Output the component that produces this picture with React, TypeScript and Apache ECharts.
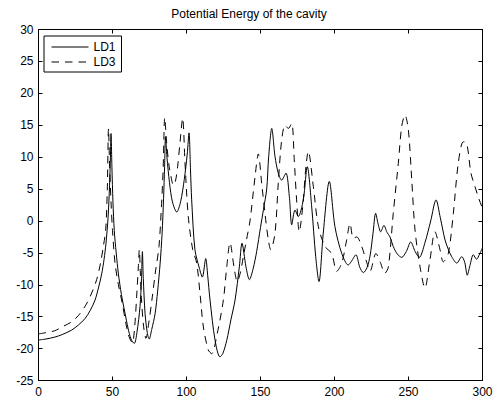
import { useEffect, useRef } from "react";
import * as echarts from "echarts";

const chartTitle = "Potential Energy of the cavity";
const seriesNames = ["LD1", "LD3"];

const ld1X = [0, 5, 11, 16, 22.4, 27, 31.4, 35, 38.2, 40.5, 42.7, 44.3, 45.6, 47, 48, 48.6, 49, 49.6, 50.3, 51.2, 52.5, 54, 56, 58.5, 60.5, 62.5, 64.7, 66.5, 68.6, 69.6, 70.2, 70.8, 72, 73.5, 74.8, 76.5, 78.8, 80.5, 82.2, 83.5, 84.5, 85.2, 85.8, 86.8, 88.5, 90.5, 93.4, 96, 98.5, 100.5, 101.7, 102.7, 103.5, 105.7, 108.7, 110.7, 113, 114.3, 115.9, 119.3, 122.6, 124.5, 127.2, 130, 132.8, 135.7, 137.5, 140.2, 142.5, 145, 147.4, 150, 152, 154.2, 155.5, 157.6, 159.8, 162, 164.3, 167.2, 169.5, 171.1, 173.3, 175.5, 178.9, 181.6, 184.6, 187.3, 189.5, 192.4, 196.5, 200.3, 204.9, 209.3, 211.5, 214.5, 217, 219.5, 222, 224, 226, 227.8, 229.5, 231.2, 233.4, 235.5, 237.5, 239.7, 242.5, 245.4, 248.5, 251.5, 254.5, 257.3, 261, 265, 268.6, 271.5, 274.7, 277, 279.2, 282.6, 286, 288, 289.7, 291.5, 293.8, 296, 298, 300];
const ld1Y = [-18.65, -18.5, -18.2, -17.8, -17.1, -16.3, -15.3, -14, -12.4, -10.5, -8.3, -6, -3.5, 0.5, 5.5, 10, 13.7, 8.5, 3, -1.5, -5, -8.3, -11.5, -14.5, -16.8, -18.5, -19.2, -17.5, -13.4, -9, -4.8, -9, -14.5, -17.5, -18.5, -17, -14.5, -11, -6.6, -2, 3.5, 8.5, 13.2, 10, 6, 3, 1.4, 3, 6.5, 10.5, 13.8, 8, 3.3, -4.5, -7.4, -8.8, -5.9, -8.5, -12.4, -18.7, -21.3, -20.8, -18.7, -15.5, -12.4, -7.2, -3.5, -7.2, -9.2, -7.5, -4.8, -1, 1.8, 5, 10, 14.5, 10.1, 7.5, 6.4, 7.5, 3.8, -0.6, 1.7, 0.7, 3.3, 8.5, 2.2, -5.6, -9.5, -1.9, 6.2, -0.9, -5.1, -6.9, -6.3, -5.3, -7.2, -8.1, -7.3, -5.5, -2, 1.2, -0.5, -1.7, -0.7, -1.8, -2.5, -4, -5.2, -5.7, -4.8, -3.3, -4.8, -5.7, -3.5, 0, 3.3, 0.5, -3, -4.5, -5.6, -6.6, -5.6, -6.5, -8.5, -7, -5.3, -6, -5.2, -4.2];

const ld3X = [0, 5, 11, 16, 22.4, 27, 31.4, 35, 39.3, 42, 43.8, 45.4, 46.5, 47.3, 48, 49, 50, 51.7, 54, 56.6, 59, 61.1, 63.4, 65, 66.3, 67.5, 68.1, 68.8, 69.5, 71, 72.6, 74.5, 76.9, 79, 81.4, 83, 84.2, 85.3, 86.5, 88, 89.5, 91.1, 92.5, 94, 95.5, 97.4, 99, 101.2, 104.2, 106.9, 109.1, 111.4, 114.7, 117, 120.8, 124.9, 127.2, 129.4, 132.1, 134.3, 136.5, 138.4, 140.5, 142.9, 146.3, 148.5, 150.8, 153, 155.3, 156.9, 159.8, 162, 164.3, 166.6, 168.8, 171.1, 172.8, 174.4, 176.2, 178.5, 180.7, 182.3, 185.7, 189.1, 193.6, 198.1, 201.5, 204.9, 208.2, 210.5, 212.7, 215, 218.4, 221.8, 224, 228, 231, 234, 236.4, 239.7, 243.1, 245.4, 247.6, 249.9, 252.2, 254.4, 257.8, 261.1, 264.5, 267.9, 271.3, 273.5, 276.9, 280.3, 283.6, 287, 289.3, 292.2, 294.9, 297.5, 300];
const ld3Y = [-17.7, -17.5, -17.2, -16.6, -15.8, -14.8, -13.4, -11.8, -9.2, -6.5, -4, -1.4, 5, 14.5, 9, 3, -1.5, -6.6, -10, -12.9, -16, -18.1, -19.1, -16.5, -11.9, -7, -4.5, -8, -12, -16.5, -18.4, -16, -11.9, -8, -4, 2, 8, 16.2, 12.5, 9, 7, 5.6, 6.2, 8.5, 12, 16.1, 9, 0.7, -4.5, -6.6, -11.3, -16.6, -20.2, -20.8, -17.6, -12.4, -7.2, -3.4, -7.2, -9.5, -8, -5.6, -3, 0, 6.9, 10.5, 5.9, 1.2, -3, -4.5, -1.9, 5.9, 12.7, 15, 14.5, 15.3, 9.6, 3.3, -1.7, 2.2, 8.5, 10.9, 5.4, -0.9, -4, -5.1, -7.9, -6.6, -3, -0.4, -2.7, -2.5, -4, -6.5, -7.9, -5.1, -6.5, -8.2, -7.2, 1.2, 9, 14.8, 16.6, 14.3, 6.4, -1.4, -7.2, -10.5, -6.1, -1.7, -4.5, -6.4, -5.1, 1.2, 9, 12.4, 12.2, 7.5, 5.4, 3.5, 2];

const xMin = 0, xMax = 300, xStep = 50;
const yMin = -25, yMax = 30, yStep = 5;

const FONT = "'Liberation Sans', Arial, Helvetica, sans-serif";

export default function App() {
  const ref = useRef<HTMLDivElement>(null);
  useEffect(() => {
    if (!ref.current) return;
    const chart = echarts.init(ref.current, undefined, { renderer: "svg" });
    const pairs = (xs: number[], ys: number[]) => xs.map((x, i) => [x, ys[i]]);
    const axisBase = {
      type: "value" as const,
      axisLine: { show: true, onZero: false, lineStyle: { color: "#000", width: 1 } },
      axisTick: { show: true, inside: true, length: 4, lineStyle: { color: "#000" } },
      splitLine: { show: false },
    };
    const label = { color: "#000", fontSize: 12, fontFamily: FONT };
    chart.setOption({
      animation: false,
      backgroundColor: "#fff",
      title: {
        text: chartTitle,
        left: "center",
        top: 8,
        padding: [0, 0, 0, 23],
        textStyle: { color: "#000", fontSize: 12, fontWeight: "normal", fontFamily: FONT },
      },
      grid: { left: 38.5, right: 15.5, top: 29.5, bottom: 20.5, containLabel: false },
      legend: {
        data: seriesNames,
        orient: "vertical",
        left: 44,
        top: 36,
        padding: [5, 6, 4, 7],
        itemGap: 3,
        itemWidth: 37,
        itemHeight: 12,
        borderColor: "#000",
        borderWidth: 1,
        backgroundColor: "#fff",
        itemStyle: { opacity: 0 },
        lineStyle: { width: 1 },
        textStyle: { color: "#000", fontSize: 12, fontFamily: FONT },
      },
      xAxis: [
        { ...axisBase, position: "bottom", min: xMin, max: xMax, interval: xStep, axisLabel: { ...label, margin: 5 } },
        { ...axisBase, position: "top", min: xMin, max: xMax, interval: xStep, axisLabel: { show: false } },
      ],
      yAxis: [
        { ...axisBase, position: "left", min: yMin, max: yMax, interval: yStep, axisLabel: { ...label, margin: 5 } },
        { ...axisBase, position: "right", min: yMin, max: yMax, interval: yStep, axisLabel: { show: false } },
      ],
      series: [
        {
          name: seriesNames[0],
          type: "line",
          data: pairs(ld1X, ld1Y),
          symbol: "none",
          smooth: 0.3,
          lineStyle: { color: "#000", width: 1, type: "solid" },
          itemStyle: { color: "#000" },
        },
        {
          name: seriesNames[1],
          type: "line",
          data: pairs(ld3X, ld3Y),
          symbol: "none",
          smooth: 0.3,
          lineStyle: { color: "#000", width: 1, type: [7.5, 6] },
          itemStyle: { color: "#000" },
        },
      ],
    });
    return () => chart.dispose();
  }, []);
  return <div ref={ref} style={{ position: "absolute", left: 0, top: 0, width: 498, height: 401 }} />;
}
